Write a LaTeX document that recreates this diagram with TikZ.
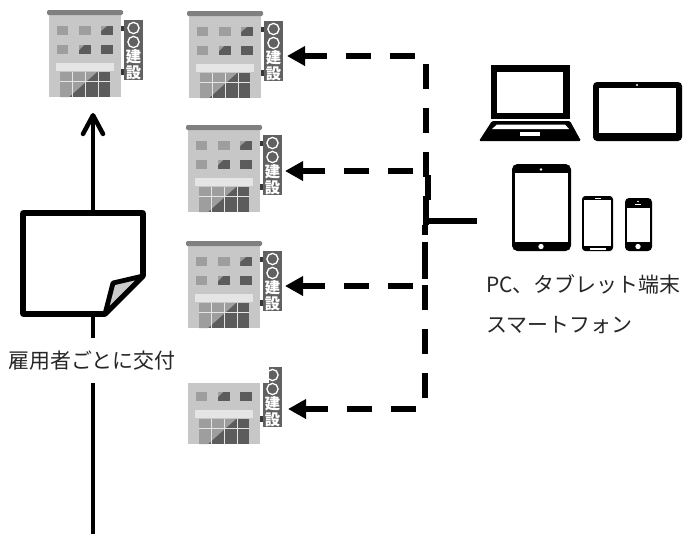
\documentclass[tikz,border=0pt]{standalone}
\usepackage{fontspec}
\newfontfamily\cjkfont{Noto Sans CJK JP}
\usetikzlibrary{arrows.meta}
\definecolor{bldroof}{gray}{0.50}
\definecolor{bldbody}{gray}{0.78}
\definecolor{bldsign}{gray}{0.38}
\definecolor{bldlite}{gray}{0.62}
\definecolor{blddark}{gray}{0.36}
\definecolor{bldawn}{gray}{0.90}
\definecolor{bldbrk}{gray}{0.22}
\definecolor{txtgray}{gray}{0.15}
\tikzset{
  x=0.75pt,y=-0.75pt,
  link/.style={line width=3pt,black},
  dashlink/.style={line width=4.5pt,black,dash pattern=on 18.75pt off 14.25pt},
  solidtick/.style={line width=4.5pt,black},
  feedarrow/.style={dashlink,-{Triangle[length=13.5pt,width=14pt]}},
  lbl/.style={font=\cjkfont\fontsize{15.7pt}{18pt}\selectfont,text=txtgray,inner sep=0pt},
  signtxt/.style={font=\cjkfont\bfseries\fontsize{11.5pt}{12pt}\selectfont,text=white,inner sep=0pt},
  devblack/.style={fill=black,draw=none},
  devwhite/.style={fill=white,draw=none},
  bldg/.pic={
    \fill[bldbody] (2,5) rectangle (74,87);
    \fill[bldroof,rounded corners=1pt] (0,0) rectangle (76,5);
    \fill[bldlite] (10,16) rectangle (21,25);
    \fill[bldlite] (32,16) rectangle (44,25);
    \fill[blddark] (54,16) rectangle (66,25);
    \fill[bldlite] (54,25) -- (54,21) -- (60,16) -- (54,16) -- cycle;
    \fill[bldlite] (10,35) rectangle (21,44);
    \fill[blddark] (32,35) rectangle (44,44);
    \fill[bldlite] (32,35) -- (32,40) -- (37,35) -- cycle;
    \fill[blddark] (54,35) rectangle (66,44);
    \fill[bldawn] (9,53) rectangle (67,61);
    \fill[blddark] (13,62) rectangle (63,87);
    \fill[bldlite] (13,62) -- (50,62) -- (22,87) -- (13,87) -- cycle;
    \draw[bldawn,line width=0.6pt] (25.7,62) -- (25.7,87) (38.3,62) -- (38.3,87) (51,62) -- (51,87) (13,71.5) -- (63,71.5);
    \fill[bldbrk] (74,16) rectangle (78,21);
    \fill[bldbrk] (74,59) rectangle (78,65);
    \fill[bldsign] (77,10) rectangle (96,70);
    \draw[white,line width=1pt] (86.5,18) circle[radius=4.2pt];
    \draw[white,line width=1pt] (86.5,32) circle[radius=4.2pt];
    \node[signtxt] (-ken) at (86.5,47) {建};
    \node[signtxt] (-setsu) at (86.5,62.5) {設};
  }
}
\begin{document}
\begin{tikzpicture}
\fill[white] (0,0) rectangle (686,533);
\useasboundingbox (0,0) rectangle (686,533);

% buildings
\pic (b1) at (47,10) {bldg};
\pic (b2) at (187,11) {bldg};
\pic (b3) at (186,125) {bldg};
\pic (b4) at (186,241) {bldg};
\begin{scope}
  \clip (186,383) rectangle (290,450) (269,365) rectangle (290,383);
  \pic (b5) at (186,357) {bldg};
\end{scope}

% named end points
\coordinate (bottom) at (93,534);
\coordinate (b1foot) at (93,113);
\coordinate (t1) at (287,56);
\coordinate (t2) at (285,171);
\coordinate (t3) at (285,286);
\coordinate (t4) at (288,409);
\coordinate (r1) at (415,56);
\coordinate (r2) at (413,171);
\coordinate (r3) at (413,286);
\coordinate (r4) at (416,409);
\coordinate (hub) at (477,221);
\coordinate (junction) at (426,221);

% main connector
\draw[link,-{Straight Barb[round,length=14pt,width=15pt,line width=3.4pt]}] (bottom) -- (b1foot);

% note sheet
\node[lbl,fill=white,minimum height=33.75pt,minimum width=127pt] (issue) at (92,360.5) {雇用者ごとに交付};
\path[draw=black,fill=white,line width=4.2pt,line join=round]
  (23,213) -- (143,213) -- (143,276) -- (105,314) -- (23,314) -- cycle;
\path[draw=black,fill=black!20,line width=3.6pt,line join=round]
  (143,276) -- (113,283) -- (105,314) -- cycle;

% feeds
\draw[feedarrow] (r1) -- (t1);
\draw[feedarrow] (r2) -- (t2);
\draw[feedarrow] (r3) -- (t3);
\draw[feedarrow] (r4) -- (t4);

% trunk
\draw[dashlink] (425.7,64) -- (425.7,177);
\draw[solidtick] (428,175) -- (428,200);
\draw[solidtick] (426,196) -- (426,225);
\draw[solidtick] (425,225) -- (425,235);
\draw[solidtick] (425,242) -- (425,279);
\draw[dashlink] (425,285) -- (425,398);
\draw[solidtick] (junction) -- (hub);

% laptop
\fill[devblack] (491,65) rectangle (570,119);
\fill[devwhite] (497,72) rectangle (563,113);
\fill[devblack,rounded corners=1pt] (492,121) -- (570,121) -- (581,141) -- (479,141) -- cycle;
\fill[devwhite] (497,124.5) -- (565,124.5) -- (569,129) -- (492,129) -- cycle;
\fill[devwhite] (520,132) rectangle (540,136);

% landscape tablet
\fill[devblack,rounded corners=3pt] (593,82) rectangle (682,141);
\fill[devwhite] (599,88) rectangle (676,133);
\fill[devwhite] (637,85) circle[radius=0.8pt];

% portrait tablet
\fill[devblack,rounded corners=4pt] (512,164) rectangle (571,251);
\fill[devwhite] (515,173) rectangle (568,242);
\fill[devwhite] (541,169.5) circle[radius=1pt];
\fill[devwhite] (541,246.5) circle[radius=2pt];

% phone 1
\fill[devblack,rounded corners=2.5pt] (582,196) rectangle (613,251);
\fill[devwhite] (584,200) rectangle (611,246);
\fill[devwhite] (595,197.5) rectangle (601,198.8);
\fill[devwhite] (590,248) rectangle (606,249.5);

% phone 2
\fill[devblack,rounded corners=3pt] (625,198) rectangle (652,251);
\fill[devwhite] (627,208) rectangle (650,242);
\fill[devwhite] (635,204) rectangle (641,205);
\fill[devwhite] (638,201.5) circle[radius=0.7pt];
\fill[devwhite] (638,246.5) circle[radius=2pt];

% captions
\node[lbl,anchor=west] (cap1) at (486,284) {PC、タブレット端末};
\node[lbl,anchor=west] (cap2) at (486,325) {スマートフォン};
\end{tikzpicture}
\end{document}
